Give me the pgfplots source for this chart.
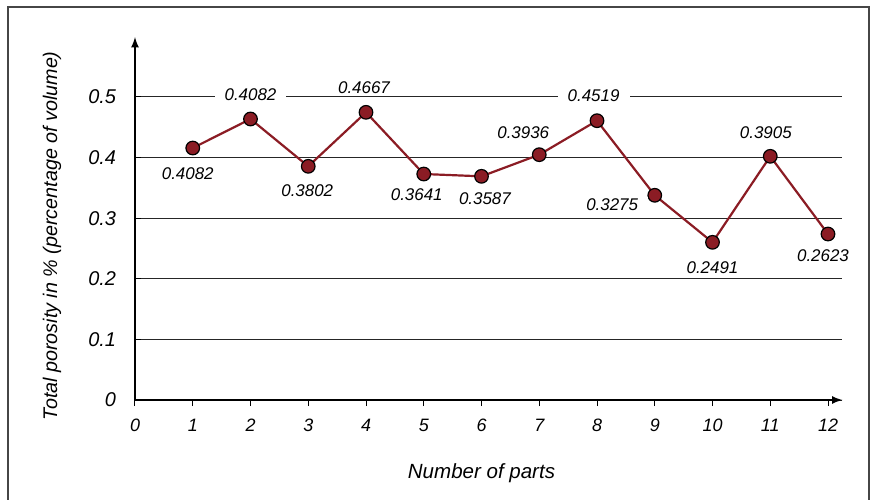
\documentclass[border=0pt]{standalone}
\usepackage{fontspec}
\setmainfont{Liberation Sans}
\usepackage{pgfplots}
\usepackage{pgfplotstable}
\pgfplotsset{compat=1.18}

\definecolor{porored}{RGB}{139,28,36}
\definecolor{framegray}{RGB}{70,70,70}

% x, y, label, label offset (bp)
\pgfplotstableread{
x  y      lab     dx    dy
1  0.4158 0.4082  -2.5  -13
2  0.4637 0.4082   0    12.3
3  0.3856 0.3802  -0.5 -12.2
4  0.4747 0.4667  -1    12.5
5  0.3729 0.3641  -3.5 -10.5
6  0.3691 0.3587   1.7 -11.2
7  0.4048 0.3936  -8    11
8  0.4609 0.4519  -1.7  12.5
9  0.3378 0.3275 -21.3  -4.8
10 0.2602 0.2491   0   -12.5
11 0.4021 0.3905  -2.2  12
12 0.2739 0.2623  -2.5 -11
}\porosity

\begin{document}
\begin{tikzpicture}
\useasboundingbox (-67.5bp,-50bp) rectangle (370.5bp,200bp);
\draw[framegray, line width=1bp] (-63.5bp,-52bp) -- (-63.5bp,196.5bp) -- (367bp,196.5bp) -- (367bp,-52bp);
\begin{axis}[
    at={(0,0)}, anchor=origin,
    x=28.875bp, y=303bp,
    xmin=0, xmax=12.25,
    ymin=0, ymax=0.599,
    axis lines=left,
    axis line style={line width=0.8bp, -latex},
    xtick={0,...,12},
    ytick={0,0.1,...,0.5},
    x tick label style={font=\fontsize{9}{11}\selectfont\itshape, yshift=-3bp},
    y tick label style={font=\fontsize{10}{12}\selectfont\itshape, xshift=-6bp},
    /pgf/number format/assume math mode=true,
    yticklabel style={/pgf/number format/fixed, /pgf/number format/precision=1},
    tick style={black, line width=0.5bp},
    major tick length=3bp,
    xtick align=outside,
    ytick align=inside,
    ymajorgrids,
    grid style={black!85, line width=0.5bp},
    xlabel={Number of parts},
    ylabel={Total porosity in \% (percentage of volume)},
    xlabel style={font=\fontsize{10.3}{12}\selectfont\itshape, at={(axis cs:6,0)}, anchor=center, yshift=-36.5bp},
    ylabel style={font=\fontsize{9.9}{11}\selectfont\itshape, at={(axis cs:0,0.271)}, anchor=center, yshift=41.5bp},
    clip=false,
]
\addplot[
    porored, line width=1.1bp,
    mark=*, mark size=3.4bp,
    mark options={fill=porored, draw=black, line width=0.6bp},
    point meta=explicit symbolic,
    visualization depends on={\thisrow{dx} \as \dx},
    visualization depends on={\thisrow{dy} \as \dy},
    nodes near coords,
    nodes near coords style={
        font=\fontsize{8.5}{10}\selectfont\itshape, text=black,
        anchor=center, fill=white, inner xsep=5bp, inner ysep=0.8bp,
        xshift=\dx bp, yshift=\dy bp},
] table[x=x, y=y, meta=lab] {\porosity};
\end{axis}
\end{tikzpicture}
\end{document}
